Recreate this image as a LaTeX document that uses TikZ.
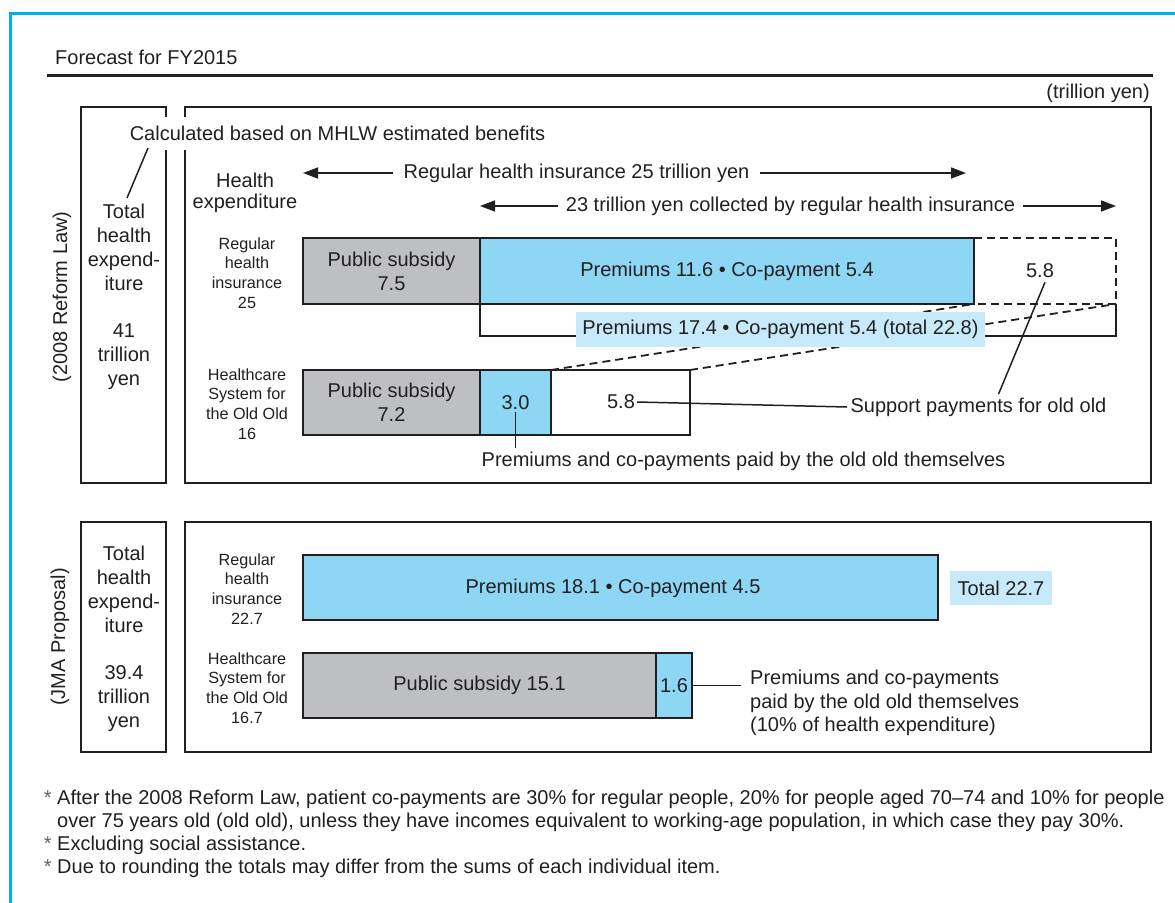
\documentclass[tikz,border=0pt]{standalone}
\usepackage{fontspec}
\setmainfont{Liberation Sans}
\usetikzlibrary{arrows.meta,calc}
\definecolor{ink}{RGB}{35,31,32}
\definecolor{framecol}{RGB}{0,174,239}
\definecolor{subsidy}{RGB}{190,191,194}
\definecolor{premium}{RGB}{141,215,245}
\definecolor{tagcol}{RGB}{198,234,250}

\begin{document}
\begin{tikzpicture}[x=1pt,y=-1pt,
  every node/.style={text=ink, font=\fontsize{20}{24}\selectfont},
  small/.style={font=\fontsize{16.2}{19.8}\selectfont, align=center},
  panel/.style={draw=ink, line width=1.8pt, anchor=north west, inner sep=0pt, outer sep=0pt},
  bar/.style={draw=ink, line width=2.2pt, inner sep=0pt, outer sep=0pt, anchor=north west, align=center},
  tagbox/.style={fill=tagcol, inner sep=0pt, align=center},
  dashline/.style={draw=ink, line width=1.8pt, dash pattern=on 8pt off 5pt},
  leader/.style={draw=ink, line width=1.5pt},
  arr/.style={draw=ink, line width=1.5pt, -{Triangle[length=15pt,width=11pt]}},
  note/.style={anchor=base west, inner sep=0pt}
]
\useasboundingbox (0,0) rectangle (1175,902);

% outer frame and heading
\draw[framecol, line width=3pt] (10,910) -- (10,13) -- (1185,13);
\node[anchor=base west, inner sep=0pt] (title) at (55,64) {Forecast for FY2015};
\draw[ink, line width=3pt] (47,75) -- (1153,75);
\node[anchor=base east, inner sep=0pt] (unit) at (1150,98) {(trillion yen)};

% ---------- 2008 Reform Law ----------
\node[panel, minimum width=85pt, minimum height=376pt] (lp1) at (81,107) {};
\node[panel, minimum width=966pt, minimum height=376pt] (rp1) at (185,107) {};
\node[rotate=90] (law) at (62,297) {(2008 Reform Law)};
\node[align=center] (tot1) at (124,297) {Total\\health\\expend-\\iture\\[23pt]41\\trillion\\yen};
\node[fill=white, inner sep=7pt, minimum height=33pt] (calc) at (337.5,133) {Calculated based on MHLW estimated benefits};
\coordinate (lk1) at (148,148);
\coordinate (lk2) at (127,198);
\draw[leader] (lk1) -- (lk2);

\node[align=center, font=\fontsize{20}{21}\selectfont] (hexp) at (245,193) {Health\\expenditure};

% range arrows
\node[inner sep=10pt] (a1) at (576.5,173) {Regular health insurance 25 trillion yen};
\coordinate (a1l) at (303,173);
\coordinate (a1r) at (966,173);
\draw[arr] (a1.west) -- (a1l);
\draw[arr] (a1.east) -- (a1r);
\node[inner sep=8pt] (a2) at (790.5,206) {23 trillion yen collected by regular health insurance};
\coordinate (a2l) at (480,206);
\coordinate (a2r) at (1116,206);
\draw[arr] (a2.west) -- (a2l);
\draw[arr] (a2.east) -- (a2r);

% row labels
\node[small] (rl1) at (247,273) {Regular\\health\\insurance\\25};
\node[small] (rl2) at (247,404) {Healthcare\\System for\\the Old Old\\16};

% regular health insurance bar
\node[bar, fill=subsidy, minimum width=177pt, minimum height=66pt] (g1) at (303,238) {Public subsidy\\7.5};
\coordinate (dtr) at (1116,238);
\coordinate (dbr) at (1116,304);
\coordinate (bl) at (480,336);
\coordinate (br) at (1116,336);

% old old bar
\node[bar, fill=subsidy, minimum width=177pt, minimum height=65pt] (g2) at (303,370) {Public subsidy\\7.2};
\node[bar, fill=premium, minimum width=71pt, minimum height=65pt] (c2) at (480,370) {};
\node[bar, fill=white, minimum width=139pt, minimum height=65pt] (w2) at (551,370) {};

% transfer of the 5.8 share
\path (480,238) node[bar, minimum width=494pt, minimum height=66pt] (c1) {};
\draw[dashline] (c1.north east) -- (dtr) -- (dbr) -- (c1.south east);
\draw[dashline] (w2.north west) -- (c1.south east);
\draw[dashline] (w2.north east) -- (dbr);
\draw[ink, line width=2pt] (c1.south west) -- (bl) -- (br) -- (dbr);
\node[bar, fill=premium, minimum width=494pt, minimum height=66pt] (c1f) at (480,238) {Premiums 11.6 • Co-payment 5.4};
\node[tagbox, minimum width=409pt, minimum height=35pt] (tag1) at (780.5,329.5) {Premiums 17.4 • Co-payment 5.4 (total 22.8)};

\node[inner sep=2pt] (t58a) at (1040,271) {5.8};
\node[inner sep=2pt] (t30) at (515.5,403) {3.0};
\node[inner sep=2pt] (t58b) at (621,402) {5.8};
\node (sup) at (978.5,407) {Support payments for old old};
\node (own) at (743.5,461) {Premiums and co-payments paid by the old old themselves};
\draw[leader] (t58b.east) -- (sup.west);
\draw[leader] ($(t58a.south)+(5,2)$) -- ($(sup.north)+(20,0)$);
\draw[leader] (t30.south) -- (t30.south |- own.north);

% ---------- JMA Proposal ----------
\node[panel, minimum width=85pt, minimum height=230pt] (lp2) at (81,522) {};
\node[panel, minimum width=966pt, minimum height=230pt] (rp2) at (185,522) {};
\node[rotate=90] (jma) at (60,637) {(JMA Proposal)};
\node[align=center] (tot2) at (124,639) {Total\\health\\expend-\\iture\\[23pt]39.4\\trillion\\yen};

\node[small] (rl3) at (247,589) {Regular\\health\\insurance\\22.7};
\node[small] (rl4) at (247,688) {Healthcare\\System for\\the Old Old\\16.7};

\node[bar, fill=premium, minimum width=635pt, minimum height=65pt] (c3) at (303,555) {};
\node (c3t) at (613,588) {Premiums 18.1 • Co-payment 4.5};
\node[tagbox, minimum width=102pt, minimum height=34pt] (tot) at (1001,588) {Total 22.7};
\node[bar, fill=subsidy, minimum width=353pt, minimum height=65pt] (g4) at (303,653) {Public subsidy 15.1};
\node[bar, fill=premium, minimum width=36pt, minimum height=65pt] (c4) at (656,653) {1.6};
\node[anchor=west, align=left, inner sep=0pt, font=\fontsize{20}{23.8}\selectfont] (pp) at (750,703) {Premiums and co-payments\\paid by the old old themselves\\(10\% of health expenditure)};
\draw[leader] (c4.east) -- ([xshift=-9pt]pp.west |- c4.east);

% ---------- notes ----------
\node[note] (n1) at (57,804) {\llap{\color{ink!70}* }After the 2008 Reform Law, patient co-payments are 30\% for regular people, 20\% for people aged 70–74 and 10\% for people};
\node[note] (n1b) at (57,827) {over 75 years old (old old), unless they have incomes equivalent to working-age population, in which case they pay 30\%.};
\node[note] (n2) at (57,850) {\llap{\color{ink!70}* }Excluding social assistance.};
\node[note] (n3) at (57,873) {\llap{\color{ink!70}* }Due to rounding the totals may differ from the sums of each individual item.};
\end{tikzpicture}
\end{document}
